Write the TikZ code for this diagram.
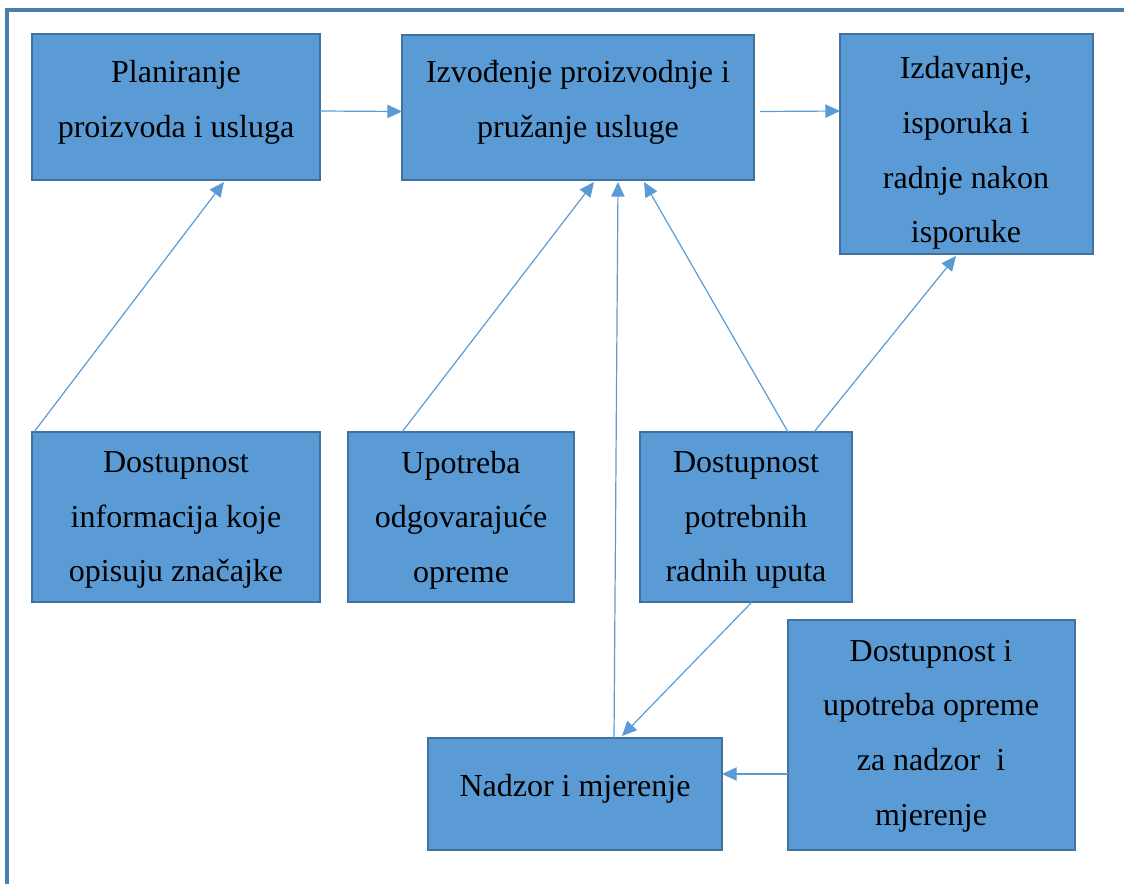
\documentclass[tikz,border=0pt]{standalone}
\usepackage{fontspec}
\setmainfont{Liberation Serif}
\usetikzlibrary{arrows.meta,calc}
\definecolor{boxfill}{HTML}{5B9BD5}
\definecolor{boxline}{HTML}{41719C}
\definecolor{framec}{HTML}{4A7EAD}
\begin{document}
\begin{tikzpicture}[x=0.75pt,y=-0.75pt,
  box/.style 2 args={draw=boxline,fill=boxfill,line width=1.5pt,outer sep=0pt,inner sep=0pt,
     minimum width=#1*0.75pt,minimum height=#2*0.75pt},
  txt/.style={align=center,inner sep=0pt,font=\fontsize{24}{41}\selectfont},
  arr/.style={draw=boxfill,line width=0.9pt,-{Triangle[length=11pt,width=10pt]}},
  framel/.style={draw=framec,line width=2.6pt}]
\useasboundingbox (0,0) rectangle (1124,883);
\draw[framel] (7,890) -- (7,10) -- (1130,10);
% boxes
\node[box={288}{146}] (n1) at (176,107) {};
\node[box={352}{145}] (n2) at (578,107.5) {};
\node[box={253}{220}] (n3) at (966.5,144) {};
\node[box={288}{170}] (n4) at (176,517) {};
\node[box={226}{170}] (n5) at (461,517) {};
\node[box={212}{170}] (n6) at (746,517) {};
\node[box={287}{230}] (n7) at (931.5,735) {};
\node[box={294}{112}] (n8) at (575,794) {};
% texts
\node[txt] (t1) at (176,102.5) {Planiranje\\proizvoda i usluga};
\node[txt] (t2) at (578,102.5) {Izvođenje proizvodnje i\\pružanje usluge};
\node[txt] (t3) at (966,153) {Izdavanje,\\isporuka i\\radnje nakon\\isporuke};
\node[txt] (t4) at (176,520) {Dostupnost\\informacija koje\\opisuju značajke};
\node[txt] (t5) at (461,520) {Upotreba\\odgovarajuće\\opreme};
\node[txt] (t6) at (746,520) {Dostupnost\\potrebnih\\radnih uputa};
\node[txt] (t7) at (931,736) {Dostupnost i\\upotreba opreme\\za nadzor~~i\\mjerenje};
\node[txt] (t8) at (575,789) {Nadzor i mjerenje};
% connectors
\draw[arr] ($(n1.east)+(0,4)$) -- ($(n2.west)+(0,4)$);
\draw[arr] ($(n2.east)+(6,4)$) -- ($(n3.west)+(0,-33)$);
\draw[arr] ($(n4.north west)+(2,0)$) -- ($(n1.south west)+(192,2)$);
\draw[arr] ($(n5.north west)+(54,0)$) -- ($(n2.south west)+(192,2)$);
\draw[arr] ($(n8.north west)+(186,0)$) -- ($(n2.south west)+(216,2)$);
\draw[arr] ($(n6.north west)+(148,0)$) -- ($(n2.south west)+(242,2)$);
\draw[arr] ($(n6.north west)+(174,0)$) -- ($(n3.south west)+(116,2)$);
\draw[arr] ($(n6.south west)+(112,0)$) -- ($(n8.north west)+(194,-2)$);
\draw[arr] ($(n7.west)+(0,39)$) -- ($(n8.east)+(0,-20)$);
\end{tikzpicture}
\end{document}
